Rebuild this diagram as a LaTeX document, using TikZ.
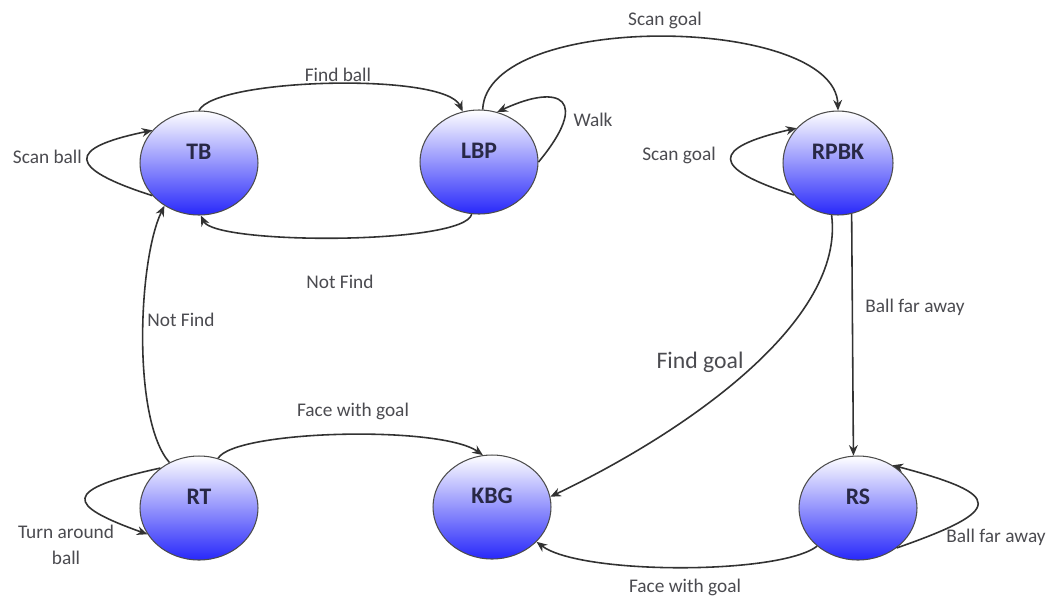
\documentclass[tikz,border=0pt]{standalone}
\usepackage{fontspec}
\setmainfont{Carlito}
\usetikzlibrary{shapes.geometric,arrows.meta}
\definecolor{statebot}{RGB}{40,40,250}
\definecolor{statetext}{RGB}{40,40,70}
\definecolor{edgegray}{RGB}{50,50,50}
\definecolor{textgray}{RGB}{75,75,80}
\tikzset{
  state/.style={ellipse, draw=black!70, line width=0.6pt, top color=white, bottom color=statebot,
    minimum width=2.36cm, minimum height=2.08cm, inner sep=0pt, text=statetext,
    font=\bfseries\fontsize{13.5}{15}\selectfont, text height=0.3cm, text depth=0.45cm},
  trans/.style={-{Stealth[length=6pt,width=5pt]}, draw=edgegray, line width=0.9pt},
  lbl/.style={text=textgray, inner sep=1pt, font=\fontsize{11}{14.7}\selectfont},
}
\begin{document}
\begin{tikzpicture}[x=0.02cm, y=-0.02cm]
\fill[white] (0,0) rectangle (1057,599);
\useasboundingbox (0,0) rectangle (1057,599);
\node[state] (tb) at (199,163) {TB};
\node[state] (lbp) at (479,162) {LBP};
\node[state, minimum width=2.2cm] (rpbk) at (838,163) {RPBK};
\node[state] (rt) at (199,508) {RT};
\node[state] (kbg) at (492,507) {KBG};
\node[state] (rs) at (858,508) {RS};
\draw[trans] (tb.90) .. controls (215,78) and (445,72) .. (lbp.108);
\draw[trans] (lbp.262) .. controls (465,245) and (215,245) .. (tb.272);
\draw[trans] (tb.215) .. controls (66,168) and (66,148) .. (tb.145);
\draw[trans] (lbp.0) .. controls (590,100) and (562,82) .. (lbp.70);
\draw[trans] (lbp.86) .. controls (487,10) and (835,15) .. (rpbk.90);
\draw[trans] (rpbk.216) .. controls (710,168) and (710,148) .. (rpbk.140);
\draw[trans] (rpbk.263) .. controls (845,320) and (690,430) .. (kbg.10);
\draw[trans] (rpbk.285) -- (rs.95);
\draw[trans] (rs.314) .. controls (1005,510) and (1005,495) .. (rs.51);
\draw[trans] (rs.223) .. controls (780,575) and (580,575) .. (kbg.322);
\draw[trans] (rt.69) .. controls (235,430) and (440,425) .. (kbg.100);
\draw[trans] (rt.123) .. controls (132,420) and (138,260) .. (tb.231);
\draw[trans] (rt.134) .. controls (60,490) and (66,505) .. (rt.207);
\node[lbl] (lfindb) at (338,75) {Find ball};
\node[lbl] (lnotf1) at (340,282) {Not Find};
\node[lbl, anchor=east] (lscanb) at (84,157) {Scan ball};
\node[lbl] (lwalk) at (593,120) {Walk};
\node[lbl] (lscang1) at (665,20) {Scan goal};
\node[lbl] (lscang2) at (679,155) {Scan goal};
\node[lbl, font=\fontsize{13.5}{15}\selectfont] (lfindg) at (700,362) {Find goal};
\node[lbl] (lfar1) at (915,307) {Ball far away};
\node[lbl] (lfar2) at (996,537) {Ball far away};
\node[lbl] (lface1) at (353,411) {Face with goal};
\node[lbl] (lface2) at (685,587) {Face with goal};
\node[lbl] (lnotf2) at (181,320) {Not Find};
\node[lbl, align=center] (lturn) at (66,545) {Turn around\\ball};
\end{tikzpicture}
\end{document}
